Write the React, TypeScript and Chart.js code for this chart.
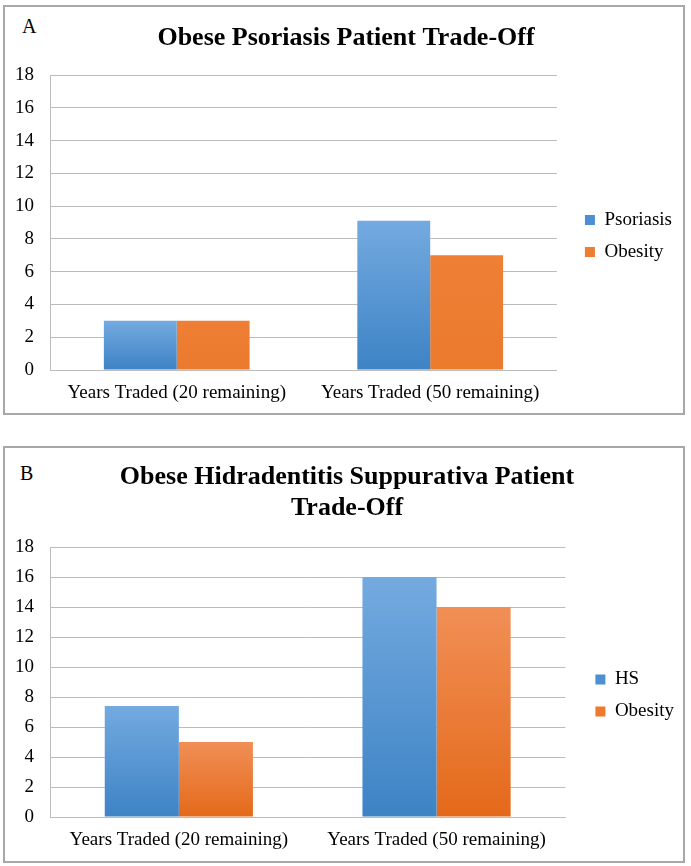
import React, { useEffect, useRef } from 'react';
import { Chart, registerables } from 'chart.js';

Chart.register(...registerables);

// ---------- data ----------
const categories = ['Years Traded (20 remaining)', 'Years Traded (50 remaining)'];
const yMin = 0;
const yMax = 18;
const yStep = 2;

const titleA = 'Obese Psoriasis Patient Trade-Off';
const seriesNamesA = ['Psoriasis', 'Obesity'];
const psoriasisValues = [3, 9.1];
const obesityValuesA = [3, 7];

const titleB = ['Obese Hidradentitis Suppurativa Patient', 'Trade-Off'];
const seriesNamesB = ['HS', 'Obesity'];
const hsValues = [7.4, 16];
const obesityValuesB = [5, 14];

// ---------- styles ----------
const SERIF = '"Liberation Serif", "Times New Roman", Times, serif';
const GRID = '#bcbcbc';

type Grad = { light: string; dark: string; flat: string };
const blue: Grad = { light: '#74aae0', dark: '#3d83c5', flat: '#4c8fd2' };
const orangeFlat: Grad = { light: '#ee7f34', dark: '#eb7a2d', flat: '#ed7d31' };
const orangeGrad: Grad = { light: '#f18f56', dark: '#e4691a', flat: '#ef7a2d' };

function gradientFill(g: Grad) {
  return (c: any) => {
    const chart = c.chart;
    if (c.type !== 'data' || !chart.chartArea) return g.flat;
    const ys = chart.scales.y;
    const top = ys.getPixelForValue(c.raw as number);
    const base = ys.getPixelForValue(0);
    if (!isFinite(top) || !isFinite(base) || Math.abs(base - top) < 1) return g.flat;
    const grd = chart.ctx.createLinearGradient(0, top, 0, base);
    grd.addColorStop(0, g.light);
    grd.addColorStop(1, g.dark);
    return grd;
  };
}

type PanelProps = {
  title: string | string[];
  names: string[];
  values: number[][];
  grads: Grad[];
  width: number;
  height: number;
  padLeft: number;
  padRight: number;
  yWidth: number;
  xHeight: number;
  gap: number;
  titlePadTop: number;
  titlePadBottom: number;
  left: number;
  top: number;
};

function ChartPanel(p: PanelProps) {
  const ref = useRef<HTMLCanvasElement | null>(null);
  useEffect(() => {
    if (!ref.current) return;
    const tickFont = { family: SERIF, size: 19 };
    const chart = new Chart(ref.current, {
      type: 'bar',
      data: {
        labels: categories,
        datasets: p.values.map((vals, i) => ({
          label: p.names[i],
          data: vals,
          backgroundColor: gradientFill(p.grads[i]),
          borderWidth: 0,
          barPercentage: 1,
          categoryPercentage: 0.575,
        })),
      },
      options: {
        responsive: false,
        animation: false,
        events: [],
        layout: { padding: { left: p.padLeft, right: p.padRight, top: 0, bottom: 0 } },
        plugins: {
          tooltip: { enabled: false },
          title: {
            display: true,
            text: p.title,
            color: '#000',
            font: { family: SERIF, size: 26, weight: 'bold', lineHeight: 1.2 },
            padding: { top: p.titlePadTop, bottom: p.titlePadBottom },
          },
          legend: {
            position: 'right',
            fullSize: false,
            maxWidth: 140,
            title: { display: true, text: '', font: { size: 10 }, padding: { top: 15, bottom: 0 } },
            labels: {
              boxWidth: 10,
              boxHeight: 10,
              padding: 13,
              color: '#000',
              font: tickFont,
              generateLabels: (ch: any) =>
                ch.data.datasets.map((ds: any, i: number) => ({
                  text: ds.label,
                  fillStyle: p.grads[i].flat,
                  strokeStyle: p.grads[i].flat,
                  fontColor: '#000',
                  lineWidth: 0,
                  hidden: !ch.isDatasetVisible(i),
                  datasetIndex: i,
                })),
            },
          },
        },
        scales: {
          x: {
            grid: { display: false, drawTicks: false },
            border: { display: true, color: GRID, width: 1 },
            ticks: { color: '#000', font: tickFont, padding: 12, maxRotation: 0 },
            afterFit: (s: any) => {
              s.height = p.xHeight;
            },
          },
          y: {
            type: 'linear',
            min: yMin,
            max: yMax,
            grid: { color: GRID, lineWidth: 1, drawTicks: false },
            border: { display: true, color: GRID, width: 1 },
            ticks: { stepSize: yStep, color: '#000', font: tickFont, padding: 16 },
            afterFit: (s: any) => {
              s.width = p.yWidth;
            },
          },
          y2: {
            type: 'linear',
            position: 'right',
            display: true,
            grid: { display: false, drawTicks: false },
            border: { display: false },
            ticks: { display: false },
            afterFit: (s: any) => {
              s.width = p.gap;
            },
          },
        },
      } as any,
    });
    return () => chart.destroy();
  }, []);
  return (
    <canvas
      ref={ref}
      width={p.width}
      height={p.height}
      style={{ position: 'absolute', left: p.left, top: p.top, width: p.width, height: p.height }}
    />
  );
}

const panelBox: React.CSSProperties = {
  position: 'absolute',
  left: 3,
  width: 682,
  boxSizing: 'border-box',
  border: '2px solid #a8a8a8',
  background: '#fff',
};

const letterStyle: React.CSSProperties = {
  position: 'absolute',
  fontFamily: SERIF,
  fontSize: 20,
  lineHeight: '20px',
  color: '#000',
};

export default function App() {
  return (
    <div style={{ position: 'absolute', left: 0, top: 0, width: 691, height: 866, background: '#fff', overflow: 'hidden' }}>
      <div style={{ ...panelBox, top: 5, height: 410 }} />
      <div style={{ ...panelBox, top: 446, height: 417 }} />
      <div style={{ ...letterStyle, left: 22, top: 16 }}>A</div>
      <div style={{ ...letterStyle, left: 20, top: 463 }}>B</div>
      <ChartPanel
        title={titleA}
        names={seriesNamesA}
        values={[psoriasisValues, obesityValuesA]}
        grads={[blue, orangeFlat]}
        width={680}
        height={404}
        padLeft={5}
        padRight={3}
        yWidth={40}
        xHeight={41}
        gap={15}
        titlePadTop={15.4}
        titlePadBottom={21.4}
        left={5}
        top={7}
      />
      <ChartPanel
        title={titleB}
        names={seriesNamesB}
        values={[hsValues, obesityValuesB]}
        grads={[blue, orangeGrad]}
        width={680}
        height={412}
        padLeft={5}
        padRight={1}
        yWidth={40}
        xHeight={43}
        gap={17}
        titlePadTop={13.9}
        titlePadBottom={22.7}
        left={5}
        top={448}
      />
    </div>
  );
}
